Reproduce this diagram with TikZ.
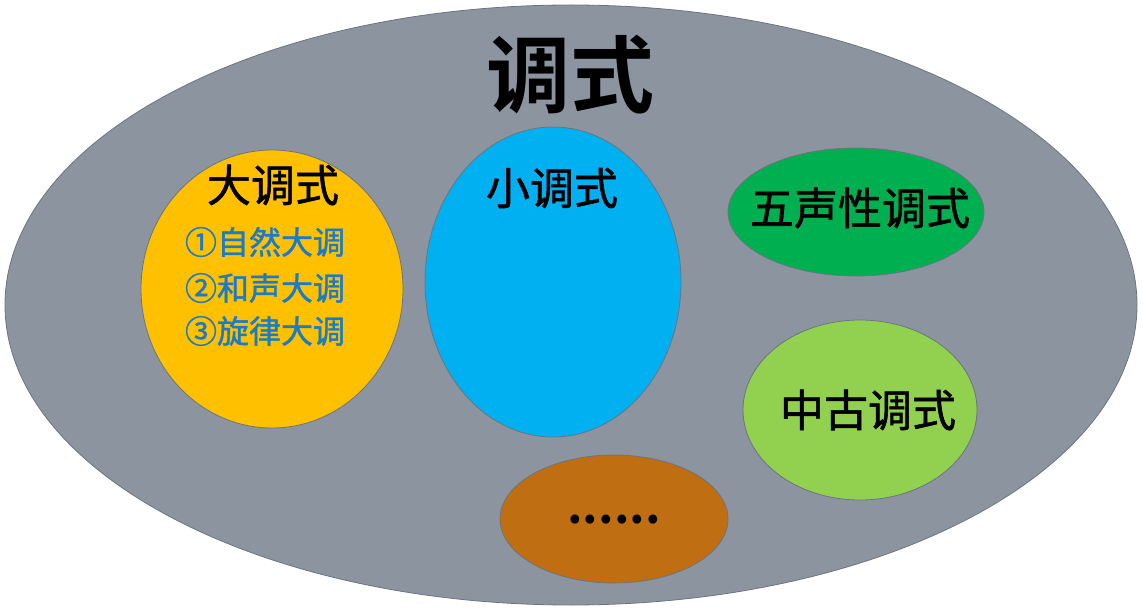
\documentclass[tikz,border=0pt]{standalone}
\usepackage{fontspec}
\setmainfont{Noto Sans CJK SC}
\newfontfamily\cjk[FakeBold=1.2]{Noto Sans CJK SC}
\newfontfamily\cjkb{Noto Sans CJK SC Bold}
\definecolor{bggray}{HTML}{8C959F}
\definecolor{edgegray}{HTML}{6B7480}
\definecolor{myyellow}{HTML}{FFC000}
\definecolor{myblue}{HTML}{00B0F0}
\definecolor{mygreen}{HTML}{00B050}
\definecolor{mylgreen}{HTML}{92D050}
\definecolor{mybrown}{HTML}{BF6E12}
\definecolor{txtblue}{HTML}{1B7BC4}
\tikzset{
  blob/.style={draw=edgegray, line width=0.8pt},
  lbl/.style={inner sep=0pt, anchor=center, text=black},
}
\begin{document}
\begin{tikzpicture}[x=1pt,y=-1pt]
\useasboundingbox (0,0) rectangle (1143,612);
\fill[white] (0,0) rectangle (1143,612);
% outer ellipse
\draw[blob, fill=bggray] (571,305) ellipse [x radius=566, y radius=300];
\node[lbl, font=\cjkb\fontsize{84}{90}\selectfont] (title) at (570,75) {调式};
% major
\draw[blob, fill=myyellow] (272,289) ellipse [x radius=131, y radius=139];
\node[lbl, font=\cjk\fontsize{44}{50}\selectfont] (major) at (273,185) {大调式};
\node[lbl, text=txtblue, font=\cjk\fontsize{32}{36}\selectfont] (m1) at (265,242) {①自然大调};
\node[lbl, text=txtblue, font=\cjk\fontsize{32}{36}\selectfont] (m2) at (265,288) {②和声大调};
\node[lbl, text=txtblue, font=\cjk\fontsize{32}{36}\selectfont] (m3) at (265,331) {③旋律大调};
% minor
\draw[blob, fill=myblue] (553,282) ellipse [x radius=128, y radius=155];
\node[lbl, font=\cjk\fontsize{44}{50}\selectfont] (minor) at (552,188) {小调式};
% pentatonic
\draw[blob, fill=mygreen] (856,212) ellipse [x radius=128, y radius=64];
\node[lbl, font=\cjk\fontsize{44}{50}\selectfont] (penta) at (860,208) {五声性调式};
% medieval
\draw[blob, fill=mylgreen] (860,410) ellipse [x radius=117, y radius=90];
\node[lbl, font=\cjk\fontsize{44}{50}\selectfont] (medi) at (868,410) {中古调式};
% others
\draw[blob, fill=mybrown] (614,519) ellipse [x radius=114, y radius=64];
\node[lbl, font=\cjkb\fontsize{48}{52}\selectfont] (dots) at (614,520) {......};
\end{tikzpicture}
\end{document}
